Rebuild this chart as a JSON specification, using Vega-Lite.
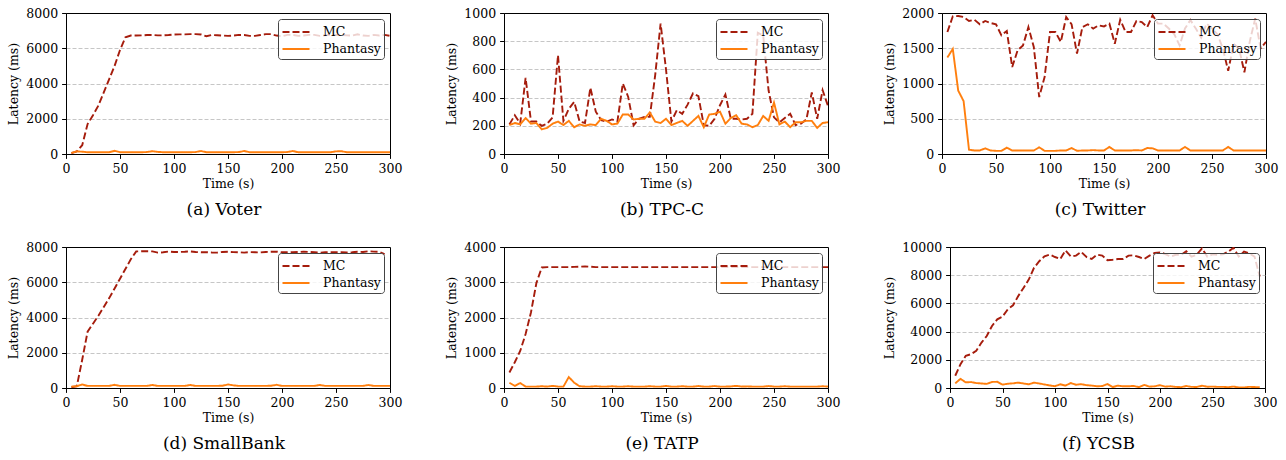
{
"$schema": "https://vega.github.io/schema/vega-lite/v6.json",
"padding": {"left": 7, "top": 6, "right": 5, "bottom": 5},
"background": "white",
"datasets": {
"voter": [
{"t":5,"MC":50,"Phantasy":60},{"t":10,"MC":150,"Phantasy":150},{"t":15,"MC":500,"Phantasy":130},{"t":20,"MC":1700,"Phantasy":100},{"t":25,"MC":2200,"Phantasy":100},{"t":30,"MC":2750,"Phantasy":100},{"t":35,"MC":3500,"Phantasy":100},{"t":40,"MC":4250,"Phantasy":100},{"t":45,"MC":5000,"Phantasy":180},{"t":50,"MC":5900,"Phantasy":100},
{"t":55,"MC":6620,"Phantasy":100},{"t":60,"MC":6720,"Phantasy":100},{"t":65,"MC":6720,"Phantasy":100},{"t":70,"MC":6730,"Phantasy":100},{"t":75,"MC":6750,"Phantasy":110},{"t":80,"MC":6750,"Phantasy":160},{"t":85,"MC":6730,"Phantasy":120},{"t":90,"MC":6730,"Phantasy":100},{"t":95,"MC":6750,"Phantasy":100},{"t":100,"MC":6780,"Phantasy":100},
{"t":105,"MC":6790,"Phantasy":100},{"t":110,"MC":6790,"Phantasy":100},{"t":115,"MC":6800,"Phantasy":100},{"t":120,"MC":6800,"Phantasy":110},{"t":125,"MC":6780,"Phantasy":170},{"t":130,"MC":6680,"Phantasy":100},{"t":135,"MC":6750,"Phantasy":100},{"t":140,"MC":6740,"Phantasy":100},{"t":145,"MC":6720,"Phantasy":100},{"t":150,"MC":6700,"Phantasy":100},
{"t":155,"MC":6720,"Phantasy":100},{"t":160,"MC":6760,"Phantasy":110},{"t":165,"MC":6750,"Phantasy":170},{"t":170,"MC":6700,"Phantasy":100},{"t":175,"MC":6700,"Phantasy":100},{"t":180,"MC":6750,"Phantasy":100},{"t":185,"MC":6800,"Phantasy":100},{"t":190,"MC":6800,"Phantasy":100},{"t":195,"MC":6720,"Phantasy":100},{"t":200,"MC":6680,"Phantasy":100},
{"t":205,"MC":6760,"Phantasy":110},{"t":210,"MC":6760,"Phantasy":170},{"t":215,"MC":6700,"Phantasy":100},{"t":220,"MC":6720,"Phantasy":100},{"t":225,"MC":6760,"Phantasy":100},{"t":230,"MC":6760,"Phantasy":100},{"t":235,"MC":6700,"Phantasy":100},{"t":240,"MC":6740,"Phantasy":100},{"t":245,"MC":6760,"Phantasy":100},{"t":250,"MC":6750,"Phantasy":150},
{"t":255,"MC":6760,"Phantasy":160},{"t":260,"MC":6730,"Phantasy":100},{"t":265,"MC":6720,"Phantasy":100},{"t":270,"MC":6790,"Phantasy":100},{"t":275,"MC":6720,"Phantasy":100},{"t":280,"MC":6700,"Phantasy":100},{"t":285,"MC":6760,"Phantasy":100},{"t":290,"MC":6720,"Phantasy":100},{"t":295,"MC":6760,"Phantasy":100},{"t":300,"MC":6700,"Phantasy":100}
],
"tpcc": [
{"t":5,"MC":210,"Phantasy":205},{"t":10,"MC":275,"Phantasy":220},{"t":15,"MC":215,"Phantasy":210},{"t":20,"MC":540,"Phantasy":255},{"t":25,"MC":230,"Phantasy":215},{"t":30,"MC":230,"Phantasy":220},{"t":35,"MC":200,"Phantasy":175},{"t":40,"MC":215,"Phantasy":185},{"t":45,"MC":260,"Phantasy":215},{"t":50,"MC":700,"Phantasy":230},
{"t":55,"MC":235,"Phantasy":205},{"t":60,"MC":320,"Phantasy":235},{"t":65,"MC":370,"Phantasy":190},{"t":70,"MC":230,"Phantasy":210},{"t":75,"MC":220,"Phantasy":200},{"t":80,"MC":470,"Phantasy":210},{"t":85,"MC":300,"Phantasy":205},{"t":90,"MC":240,"Phantasy":250},{"t":95,"MC":230,"Phantasy":235},{"t":100,"MC":245,"Phantasy":210},
{"t":105,"MC":230,"Phantasy":215},{"t":110,"MC":500,"Phantasy":280},{"t":115,"MC":405,"Phantasy":280},{"t":120,"MC":204,"Phantasy":245},{"t":125,"MC":250,"Phantasy":250},{"t":130,"MC":263,"Phantasy":250},{"t":135,"MC":263,"Phantasy":295},{"t":140,"MC":560,"Phantasy":230},{"t":145,"MC":925,"Phantasy":220},{"t":150,"MC":600,"Phantasy":250},
{"t":155,"MC":230,"Phantasy":205},{"t":160,"MC":310,"Phantasy":220},{"t":165,"MC":285,"Phantasy":235},{"t":170,"MC":350,"Phantasy":200},{"t":175,"MC":430,"Phantasy":235},{"t":180,"MC":410,"Phantasy":270},{"t":185,"MC":204,"Phantasy":190},{"t":190,"MC":200,"Phantasy":280},{"t":195,"MC":250,"Phantasy":285},{"t":200,"MC":346,"Phantasy":300},
{"t":205,"MC":422,"Phantasy":215},{"t":210,"MC":250,"Phantasy":255},{"t":215,"MC":250,"Phantasy":275},{"t":220,"MC":245,"Phantasy":215},{"t":225,"MC":250,"Phantasy":210},{"t":230,"MC":285,"Phantasy":190},{"t":235,"MC":860,"Phantasy":205},{"t":240,"MC":840,"Phantasy":270},{"t":245,"MC":450,"Phantasy":235},{"t":250,"MC":260,"Phantasy":365},
{"t":255,"MC":225,"Phantasy":210},{"t":260,"MC":255,"Phantasy":230},{"t":265,"MC":285,"Phantasy":190},{"t":270,"MC":205,"Phantasy":225},{"t":275,"MC":215,"Phantasy":225},{"t":280,"MC":245,"Phantasy":235},{"t":285,"MC":436,"Phantasy":235},{"t":290,"MC":250,"Phantasy":185},{"t":295,"MC":453,"Phantasy":220},{"t":300,"MC":340,"Phantasy":225}
],
"twitter": [
{"t":5,"MC":1730,"Phantasy":1370},{"t":10,"MC":1953,"Phantasy":1490},{"t":15,"MC":1957,"Phantasy":900},{"t":20,"MC":1943,"Phantasy":750},{"t":25,"MC":1887,"Phantasy":60},{"t":30,"MC":1905,"Phantasy":50},{"t":35,"MC":1840,"Phantasy":50},{"t":40,"MC":1887,"Phantasy":80},{"t":45,"MC":1858,"Phantasy":50},{"t":50,"MC":1840,"Phantasy":45},
{"t":55,"MC":1683,"Phantasy":45},{"t":60,"MC":1745,"Phantasy":90},{"t":65,"MC":1234,"Phantasy":50},{"t":70,"MC":1470,"Phantasy":50},{"t":75,"MC":1541,"Phantasy":50},{"t":80,"MC":1800,"Phantasy":50},{"t":85,"MC":1518,"Phantasy":50},{"t":90,"MC":808,"Phantasy":95},{"t":95,"MC":1092,"Phantasy":45},{"t":100,"MC":1730,"Phantasy":45},
{"t":105,"MC":1730,"Phantasy":45},{"t":110,"MC":1589,"Phantasy":50},{"t":115,"MC":1943,"Phantasy":50},{"t":120,"MC":1840,"Phantasy":85},{"t":125,"MC":1423,"Phantasy":45},{"t":130,"MC":1800,"Phantasy":50},{"t":135,"MC":1840,"Phantasy":50},{"t":140,"MC":1778,"Phantasy":55},{"t":145,"MC":1825,"Phantasy":50},{"t":150,"MC":1810,"Phantasy":50},
{"t":155,"MC":1849,"Phantasy":100},{"t":160,"MC":1565,"Phantasy":50},{"t":165,"MC":1905,"Phantasy":50},{"t":170,"MC":1730,"Phantasy":50},{"t":175,"MC":1730,"Phantasy":50},{"t":180,"MC":1887,"Phantasy":55},{"t":185,"MC":1872,"Phantasy":50},{"t":190,"MC":1800,"Phantasy":85},{"t":195,"MC":1967,"Phantasy":80},{"t":200,"MC":1850,"Phantasy":50},
{"t":205,"MC":1850,"Phantasy":50},{"t":210,"MC":1780,"Phantasy":50},{"t":215,"MC":1700,"Phantasy":50},{"t":220,"MC":1540,"Phantasy":50},{"t":225,"MC":1780,"Phantasy":100},{"t":230,"MC":1900,"Phantasy":50},{"t":235,"MC":1780,"Phantasy":50},{"t":240,"MC":1650,"Phantasy":50},{"t":245,"MC":1850,"Phantasy":50},{"t":250,"MC":1780,"Phantasy":50},
{"t":255,"MC":1700,"Phantasy":50},{"t":260,"MC":1500,"Phantasy":50},{"t":265,"MC":1180,"Phantasy":100},{"t":270,"MC":1560,"Phantasy":50},{"t":275,"MC":1500,"Phantasy":50},{"t":280,"MC":1160,"Phantasy":50},{"t":285,"MC":1600,"Phantasy":50},{"t":290,"MC":1920,"Phantasy":50},{"t":295,"MC":1500,"Phantasy":50},{"t":300,"MC":1590,"Phantasy":50}
],
"smallbank": [
{"t":5,"MC":40,"Phantasy":80},{"t":10,"MC":100,"Phantasy":100},{"t":15,"MC":1600,"Phantasy":200},{"t":20,"MC":3200,"Phantasy":120},{"t":25,"MC":3650,"Phantasy":120},{"t":30,"MC":4100,"Phantasy":120},{"t":35,"MC":4600,"Phantasy":120},{"t":40,"MC":5100,"Phantasy":120},{"t":45,"MC":5650,"Phantasy":180},{"t":50,"MC":6200,"Phantasy":120},
{"t":55,"MC":6750,"Phantasy":120},{"t":60,"MC":7300,"Phantasy":120},{"t":65,"MC":7750,"Phantasy":120},{"t":70,"MC":7760,"Phantasy":120},{"t":75,"MC":7760,"Phantasy":120},{"t":80,"MC":7750,"Phantasy":170},{"t":85,"MC":7680,"Phantasy":120},{"t":90,"MC":7700,"Phantasy":120},{"t":95,"MC":7740,"Phantasy":120},{"t":100,"MC":7720,"Phantasy":120},
{"t":105,"MC":7720,"Phantasy":120},{"t":110,"MC":7730,"Phantasy":120},{"t":115,"MC":7750,"Phantasy":170},{"t":120,"MC":7720,"Phantasy":120},{"t":125,"MC":7700,"Phantasy":120},{"t":130,"MC":7710,"Phantasy":120},{"t":135,"MC":7690,"Phantasy":120},{"t":140,"MC":7680,"Phantasy":120},{"t":145,"MC":7720,"Phantasy":130},{"t":150,"MC":7730,"Phantasy":200},
{"t":155,"MC":7710,"Phantasy":150},{"t":160,"MC":7700,"Phantasy":120},{"t":165,"MC":7680,"Phantasy":120},{"t":170,"MC":7710,"Phantasy":120},{"t":175,"MC":7700,"Phantasy":120},{"t":180,"MC":7690,"Phantasy":120},{"t":185,"MC":7720,"Phantasy":120},{"t":190,"MC":7730,"Phantasy":130},{"t":195,"MC":7740,"Phantasy":180},{"t":200,"MC":7700,"Phantasy":120},
{"t":205,"MC":7700,"Phantasy":120},{"t":210,"MC":7710,"Phantasy":120},{"t":215,"MC":7720,"Phantasy":120},{"t":220,"MC":7730,"Phantasy":120},{"t":225,"MC":7720,"Phantasy":120},{"t":230,"MC":7700,"Phantasy":120},{"t":235,"MC":7680,"Phantasy":170},{"t":240,"MC":7700,"Phantasy":120},{"t":245,"MC":7710,"Phantasy":120},{"t":250,"MC":7700,"Phantasy":120},
{"t":255,"MC":7700,"Phantasy":120},{"t":260,"MC":7690,"Phantasy":120},{"t":265,"MC":7700,"Phantasy":120},{"t":270,"MC":7730,"Phantasy":120},{"t":275,"MC":7720,"Phantasy":120},{"t":280,"MC":7760,"Phantasy":170},{"t":285,"MC":7740,"Phantasy":120},{"t":290,"MC":7730,"Phantasy":120},{"t":295,"MC":7600,"Phantasy":120},{"t":300,"MC":null,"Phantasy":120}
],
"tatp": [
{"t":5,"MC":440,"Phantasy":150},{"t":10,"MC":730,"Phantasy":60},{"t":15,"MC":1050,"Phantasy":140},{"t":20,"MC":1530,"Phantasy":40},{"t":25,"MC":2150,"Phantasy":40},{"t":30,"MC":2980,"Phantasy":40},{"t":35,"MC":3420,"Phantasy":50},{"t":40,"MC":3430,"Phantasy":40},{"t":45,"MC":3430,"Phantasy":60},{"t":50,"MC":3430,"Phantasy":40},
{"t":55,"MC":3430,"Phantasy":40},{"t":60,"MC":3430,"Phantasy":310},{"t":65,"MC":3435,"Phantasy":150},{"t":70,"MC":3440,"Phantasy":50},{"t":75,"MC":3450,"Phantasy":40},{"t":80,"MC":3440,"Phantasy":40},{"t":85,"MC":3430,"Phantasy":50},{"t":90,"MC":3430,"Phantasy":40},{"t":95,"MC":3430,"Phantasy":40},{"t":100,"MC":3430,"Phantasy":50},
{"t":105,"MC":3430,"Phantasy":40},{"t":110,"MC":3430,"Phantasy":40},{"t":115,"MC":3430,"Phantasy":50},{"t":120,"MC":3430,"Phantasy":40},{"t":125,"MC":3430,"Phantasy":40},{"t":130,"MC":3430,"Phantasy":40},{"t":135,"MC":3430,"Phantasy":50},{"t":140,"MC":3430,"Phantasy":40},{"t":145,"MC":3430,"Phantasy":40},{"t":150,"MC":3430,"Phantasy":60},
{"t":155,"MC":3430,"Phantasy":40},{"t":160,"MC":3430,"Phantasy":40},{"t":165,"MC":3430,"Phantasy":50},{"t":170,"MC":3430,"Phantasy":40},{"t":175,"MC":3430,"Phantasy":40},{"t":180,"MC":3430,"Phantasy":55},{"t":185,"MC":3430,"Phantasy":40},{"t":190,"MC":3430,"Phantasy":40},{"t":195,"MC":3430,"Phantasy":55},{"t":200,"MC":3430,"Phantasy":40},
{"t":205,"MC":3430,"Phantasy":40},{"t":210,"MC":3430,"Phantasy":45},{"t":215,"MC":3430,"Phantasy":60},{"t":220,"MC":3430,"Phantasy":40},{"t":225,"MC":3430,"Phantasy":45},{"t":230,"MC":3430,"Phantasy":40},{"t":235,"MC":3430,"Phantasy":40},{"t":240,"MC":3430,"Phantasy":40},{"t":245,"MC":3430,"Phantasy":55},{"t":250,"MC":3430,"Phantasy":40},
{"t":255,"MC":3430,"Phantasy":40},{"t":260,"MC":3430,"Phantasy":50},{"t":265,"MC":3430,"Phantasy":40},{"t":270,"MC":3430,"Phantasy":40},{"t":275,"MC":3430,"Phantasy":40},{"t":280,"MC":3430,"Phantasy":40},{"t":285,"MC":3430,"Phantasy":40},{"t":290,"MC":3430,"Phantasy":40},{"t":295,"MC":3430,"Phantasy":50},{"t":300,"MC":3430,"Phantasy":40}
],
"ycsb": [
{"t":5,"MC":870,"Phantasy":330},{"t":10,"MC":1690,"Phantasy":650},{"t":15,"MC":2280,"Phantasy":400},{"t":20,"MC":2400,"Phantasy":420},{"t":25,"MC":2640,"Phantasy":350},{"t":30,"MC":3220,"Phantasy":320},{"t":35,"MC":3690,"Phantasy":290},{"t":40,"MC":4400,"Phantasy":430},{"t":45,"MC":4870,"Phantasy":440},{"t":50,"MC":5060,"Phantasy":240},
{"t":55,"MC":5580,"Phantasy":300},{"t":60,"MC":5860,"Phantasy":330},{"t":65,"MC":6520,"Phantasy":380},{"t":70,"MC":7100,"Phantasy":320},{"t":75,"MC":7690,"Phantasy":260},{"t":80,"MC":8520,"Phantasy":380},{"t":85,"MC":8990,"Phantasy":320},{"t":90,"MC":9340,"Phantasy":250},{"t":95,"MC":9460,"Phantasy":180},{"t":100,"MC":9290,"Phantasy":130},
{"t":105,"MC":9150,"Phantasy":260},{"t":110,"MC":9760,"Phantasy":170},{"t":115,"MC":9340,"Phantasy":350},{"t":120,"MC":9390,"Phantasy":230},{"t":125,"MC":9650,"Phantasy":270},{"t":130,"MC":9290,"Phantasy":200},{"t":135,"MC":9150,"Phantasy":170},{"t":140,"MC":9460,"Phantasy":120},{"t":145,"MC":9390,"Phantasy":140},{"t":150,"MC":9060,"Phantasy":280},
{"t":155,"MC":9100,"Phantasy":70},{"t":160,"MC":9150,"Phantasy":170},{"t":165,"MC":9150,"Phantasy":120},{"t":170,"MC":9390,"Phantasy":120},{"t":175,"MC":9410,"Phantasy":150},{"t":180,"MC":9290,"Phantasy":60},{"t":185,"MC":9150,"Phantasy":220},{"t":190,"MC":9390,"Phantasy":100},{"t":195,"MC":9580,"Phantasy":120},{"t":200,"MC":9620,"Phantasy":200},
{"t":205,"MC":9500,"Phantasy":100},{"t":210,"MC":9320,"Phantasy":120},{"t":215,"MC":9450,"Phantasy":80},{"t":220,"MC":9435,"Phantasy":60},{"t":225,"MC":9700,"Phantasy":140},{"t":230,"MC":9320,"Phantasy":80},{"t":235,"MC":9450,"Phantasy":70},{"t":240,"MC":9900,"Phantasy":160},{"t":245,"MC":9320,"Phantasy":90},{"t":250,"MC":9480,"Phantasy":100},
{"t":255,"MC":9450,"Phantasy":80},{"t":260,"MC":9480,"Phantasy":80},{"t":265,"MC":9670,"Phantasy":60},{"t":270,"MC":9950,"Phantasy":100},{"t":275,"MC":9320,"Phantasy":40},{"t":280,"MC":9670,"Phantasy":40},{"t":285,"MC":9550,"Phantasy":80},{"t":290,"MC":9320,"Phantasy":70},{"t":295,"MC":7900,"Phantasy":50}
]
},
"resolve": {"scale": {"color": "independent", "strokeDash": "independent"}, "legend": {"color": "independent", "strokeDash": "independent"}},
"spacing": 21,
"vconcat": [
{
"spacing": 42,
"resolve": {"scale": {"color": "independent", "strokeDash": "independent"}, "legend": {"color": "independent", "strokeDash": "independent"}},
"hconcat": [
{"width": 324, "height": 141, "data": {"name": "voter"}, "transform": [{"fold": ["MC","Phantasy"], "as": ["s","v"]}],
 "title": {"text": "(a) Voter", "orient": "bottom", "dx": -4},
 "mark": {"type": "line", "strokeWidth": 1.9, "clip": true},
 "encoding": {
  "x": {"field": "t", "type": "quantitative", "title": "Time (s)", "scale": {"domain": [0,300], "nice": false}, "axis": {"values": [0,50,100,150,200,250,300]}},
  "y": {"field": "v", "type": "quantitative", "title": "Latency (ms)", "scale": {"domain": [0,8000], "nice": false}, "axis": {"values": [0,2000,4000,6000,8000], "format": "d", "gridOpacity": {"condition": {"test": "datum.value == 0 || datum.value == 8000", "value": 0}, "value": 1}}},
  "color": {"field": "s", "type": "nominal", "title": null, "scale": {"domain": ["MC","Phantasy"], "range": ["#a51c0c","#ff7f0e"]}},
  "strokeDash": {"field": "s", "type": "nominal", "title": null, "scale": {"domain": ["MC","Phantasy"], "range": [[7,3],[1,0]]}}
 }},
{"width": 324, "height": 141, "data": {"name": "tpcc"}, "transform": [{"fold": ["MC","Phantasy"], "as": ["s","v"]}],
 "title": {"text": "(b) TPC-C", "orient": "bottom", "dx": -4},
 "mark": {"type": "line", "strokeWidth": 1.9, "clip": true},
 "encoding": {
  "x": {"field": "t", "type": "quantitative", "title": "Time (s)", "scale": {"domain": [0,300], "nice": false}, "axis": {"values": [0,50,100,150,200,250,300]}},
  "y": {"field": "v", "type": "quantitative", "title": "Latency (ms)", "scale": {"domain": [0,1000], "nice": false}, "axis": {"values": [0,200,400,600,800,1000], "format": "d", "gridOpacity": {"condition": {"test": "datum.value == 0 || datum.value == 1000", "value": 0}, "value": 1}}},
  "color": {"field": "s", "type": "nominal", "title": null, "scale": {"domain": ["MC","Phantasy"], "range": ["#a51c0c","#ff7f0e"]}},
  "strokeDash": {"field": "s", "type": "nominal", "title": null, "scale": {"domain": ["MC","Phantasy"], "range": [[7,3],[1,0]]}}
 }},
{"width": 324, "height": 141, "data": {"name": "twitter"}, "transform": [{"fold": ["MC","Phantasy"], "as": ["s","v"]}],
 "title": {"text": "(c) Twitter", "orient": "bottom", "dx": -4},
 "mark": {"type": "line", "strokeWidth": 1.9, "clip": true},
 "encoding": {
  "x": {"field": "t", "type": "quantitative", "title": "Time (s)", "scale": {"domain": [0,300], "nice": false}, "axis": {"values": [0,50,100,150,200,250,300]}},
  "y": {"field": "v", "type": "quantitative", "title": "Latency (ms)", "scale": {"domain": [0,2000], "nice": false}, "axis": {"values": [0,500,1000,1500,2000], "format": "d", "gridOpacity": {"condition": {"test": "datum.value == 0 || datum.value == 2000", "value": 0}, "value": 1}}},
  "color": {"field": "s", "type": "nominal", "title": null, "scale": {"domain": ["MC","Phantasy"], "range": ["#a51c0c","#ff7f0e"]}},
  "strokeDash": {"field": "s", "type": "nominal", "title": null, "scale": {"domain": ["MC","Phantasy"], "range": [[7,3],[1,0]]}}
 }}
]},
{
"spacing": 42,
"resolve": {"scale": {"color": "independent", "strokeDash": "independent"}, "legend": {"color": "independent", "strokeDash": "independent"}},
"hconcat": [
{"width": 324, "height": 141, "data": {"name": "smallbank"}, "transform": [{"fold": ["MC","Phantasy"], "as": ["s","v"]}],
 "title": {"text": "(d) SmallBank", "orient": "bottom", "dx": -4},
 "mark": {"type": "line", "strokeWidth": 1.9, "clip": true},
 "encoding": {
  "x": {"field": "t", "type": "quantitative", "title": "Time (s)", "scale": {"domain": [0,300], "nice": false}, "axis": {"values": [0,50,100,150,200,250,300]}},
  "y": {"field": "v", "type": "quantitative", "title": "Latency (ms)", "scale": {"domain": [0,8000], "nice": false}, "axis": {"values": [0,2000,4000,6000,8000], "format": "d", "gridOpacity": {"condition": {"test": "datum.value == 0 || datum.value == 8000", "value": 0}, "value": 1}}},
  "color": {"field": "s", "type": "nominal", "title": null, "scale": {"domain": ["MC","Phantasy"], "range": ["#a51c0c","#ff7f0e"]}},
  "strokeDash": {"field": "s", "type": "nominal", "title": null, "scale": {"domain": ["MC","Phantasy"], "range": [[7,3],[1,0]]}}
 }},
{"width": 324, "height": 141, "data": {"name": "tatp"}, "transform": [{"fold": ["MC","Phantasy"], "as": ["s","v"]}],
 "title": {"text": "(e) TATP", "orient": "bottom", "dx": -4},
 "mark": {"type": "line", "strokeWidth": 1.9, "clip": true},
 "encoding": {
  "x": {"field": "t", "type": "quantitative", "title": "Time (s)", "scale": {"domain": [0,300], "nice": false}, "axis": {"values": [0,50,100,150,200,250,300]}},
  "y": {"field": "v", "type": "quantitative", "title": "Latency (ms)", "scale": {"domain": [0,4000], "nice": false}, "axis": {"values": [0,1000,2000,3000,4000], "format": "d", "gridOpacity": {"condition": {"test": "datum.value == 0 || datum.value == 4000", "value": 0}, "value": 1}}},
  "color": {"field": "s", "type": "nominal", "title": null, "scale": {"domain": ["MC","Phantasy"], "range": ["#a51c0c","#ff7f0e"]}},
  "strokeDash": {"field": "s", "type": "nominal", "title": null, "scale": {"domain": ["MC","Phantasy"], "range": [[7,3],[1,0]]}}
 }},
{"width": 315, "height": 141, "data": {"name": "ycsb"}, "transform": [{"fold": ["MC","Phantasy"], "as": ["s","v"]}],
 "title": {"text": "(f) YCSB", "orient": "bottom", "dx": -9},
 "mark": {"type": "line", "strokeWidth": 1.9, "clip": true},
 "encoding": {
  "x": {"field": "t", "type": "quantitative", "title": "Time (s)", "scale": {"domain": [0,300], "nice": false}, "axis": {"values": [0,50,100,150,200,250,300]}},
  "y": {"field": "v", "type": "quantitative", "title": "Latency (ms)", "scale": {"domain": [0,10000], "nice": false}, "axis": {"values": [0,2000,4000,6000,8000,10000], "format": "d", "gridOpacity": {"condition": {"test": "datum.value == 0 || datum.value == 10000", "value": 0}, "value": 1}}},
  "color": {"field": "s", "type": "nominal", "title": null, "scale": {"domain": ["MC","Phantasy"], "range": ["#a51c0c","#ff7f0e"]}},
  "strokeDash": {"field": "s", "type": "nominal", "title": null, "scale": {"domain": ["MC","Phantasy"], "range": [[7,3],[1,0]]}}
 }}
]}
],
"config": {
 "font": "DejaVu Serif, Liberation Serif, serif",
 "view": {"stroke": "#000", "strokeWidth": 1},
 "axis": {"labelFont": "DejaVu Serif, Liberation Serif, serif", "labelFontSize": 12.5, "titleFont": "DejaVu Serif, Liberation Serif, serif", "titleFontSize": 12.5, "titleFontWeight": "normal", "labelColor": "#000", "titleColor": "#000", "tickColor": "#000", "domainColor": "#000", "tickSize": 4.4, "labelPadding": 4, "labelFlush": false, "grid": false},
 "axisY": {"grid": true, "gridDash": [4,2], "gridColor": "#b8b8b8", "gridWidth": 0.8, "titlePadding": 5},
 "axisX": {"titlePadding": 3},
 "legend": {"orient": "top-right", "offset": 6, "padding": 3, "cornerRadius": 3, "strokeColor": "#444", "fillColor": "rgba(255,255,255,0.8)", "labelFont": "DejaVu Serif, Liberation Serif, serif", "labelFontSize": 12.5, "labelColor": "#000", "symbolType": "M-1.5,0H1.5", "symbolSize": 324, "symbolOffset": 5, "symbolStrokeWidth": 2, "labelOffset": 17, "rowPadding": 0},
 "title": {"font": "DejaVu Serif, Liberation Serif, serif", "fontSize": 17, "fontWeight": "normal", "color": "#000", "frame": "group", "anchor": "middle", "offset": 12}
}
}
